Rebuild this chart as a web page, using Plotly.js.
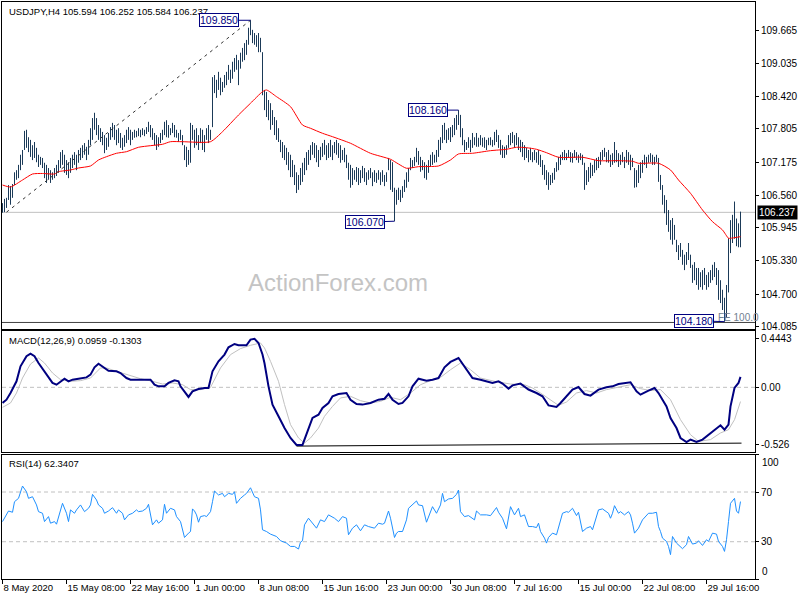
<!DOCTYPE html>
<html><head><meta charset="utf-8">
<script src="https://cdn.plot.ly/plotly-3.0.1.min.js"></script>
<style>html,body{margin:0;padding:0;background:#fff}#chart{width:800px;height:600px}</style>
</head><body><div id="chart"></div>
<script>
// ---- data ----
const symbolTitle = 'USDJPY,H4 105.594 106.252 105.584 106.237';
const macdTitle = 'MACD(12,26,9) 0.0959 -0.1303';
const rsiTitle = 'RSI(14) 62.3407';
const lastClose = 106.237;

const timeTickIdx = [0,32,64,96,128,160,192,224,256,288,320,352];
const timeLabels = ['8 May 2020','15 May 08:00','22 May 16:00','1 Jun 00:00','8 Jun 08:00','15 Jun 16:00','23 Jun 00:00','30 Jun 08:00','7 Jul 16:00','15 Jul 00:00','22 Jul 08:00','29 Jul 16:00'];

const priceTicks = [109.665,109.035,108.420,107.805,107.175,106.560,105.945,105.330,104.700,104.085];
const macdTicks = [0.4443,0,-0.526];
const macdTickText = ['0.4443','0.00','-0.526'];

const barLow = [
106.23,106.24,106.32,106.47,106.38,106.51,106.75,106.85,106.88,107.03,
107.13,107.41,107.45,107.37,107.28,107.22,107.26,107.18,107.09,107.13,
107.07,106.88,106.79,106.85,106.79,106.85,106.88,106.92,106.98,107.07,
107.13,106.98,106.94,106.88,106.98,107.07,107.13,107.03,107.17,107.22,
107.26,107.32,107.22,107.32,107.50,107.60,107.79,107.69,107.60,107.56,
107.50,107.35,107.41,107.47,107.60,107.65,107.60,107.50,107.54,107.45,
107.41,107.47,107.54,107.60,107.50,107.60,107.64,107.65,107.67,107.65,
107.69,107.67,107.71,107.75,107.65,107.60,107.50,107.41,107.47,107.54,
107.60,107.69,107.65,107.64,107.69,107.73,107.65,107.64,107.56,107.60,
107.50,107.22,107.09,107.13,107.17,107.60,107.45,107.50,107.41,107.54,
107.41,107.37,107.60,107.54,107.60,107.84,108.48,108.39,108.54,108.44,
108.50,108.58,108.63,108.73,108.67,108.75,108.88,108.92,108.63,108.94,
109.07,109.10,109.20,109.39,109.57,109.42,109.39,109.35,109.25,109.25,
108.44,108.16,108.03,107.97,107.79,107.88,107.69,107.60,107.56,107.37,
107.26,107.22,107.13,107.03,106.90,106.90,106.75,106.60,106.66,106.75,
106.81,106.94,107.03,107.13,107.22,107.32,107.26,107.18,107.09,107.22,
107.28,107.32,107.22,107.26,107.28,107.22,107.35,107.32,107.26,107.17,
107.22,107.18,107.07,106.85,106.70,106.75,106.85,106.81,106.75,106.79,
106.88,106.81,106.75,106.85,106.88,106.73,106.81,106.79,106.85,106.75,
106.81,106.73,106.81,107.03,106.66,106.62,106.07,106.38,106.47,106.43,
106.51,106.62,106.70,106.81,107.03,107.07,107.11,107.18,107.13,107.00,
107.03,106.88,106.85,106.98,107.09,107.13,107.17,107.18,107.28,107.41,
107.54,107.60,107.54,107.60,107.56,107.65,107.69,107.79,107.88,107.65,
107.50,107.37,107.41,107.45,107.37,107.45,107.50,107.47,107.47,107.50,
107.47,107.45,107.41,107.50,107.50,107.47,107.50,107.56,107.45,107.32,
107.26,107.26,107.32,107.45,107.50,107.54,107.45,107.50,107.41,107.37,
107.28,107.22,107.26,107.18,107.22,107.18,107.22,107.17,107.13,107.09,
106.94,106.85,106.75,106.66,106.75,106.79,106.85,107.00,107.03,107.13,
107.22,107.22,107.22,107.26,107.18,107.17,107.26,107.22,107.17,107.22,
107.13,106.66,106.75,106.81,106.88,106.92,106.98,107.03,107.07,107.13,
107.22,107.28,107.18,107.17,107.09,107.13,107.17,107.18,107.09,107.13,
107.18,107.07,107.17,107.13,107.03,107.09,106.70,106.71,106.79,106.88,
106.98,107.13,107.07,107.17,107.18,107.13,107.13,107.18,106.81,106.66,
106.38,106.22,106.00,105.87,105.72,105.63,105.72,105.49,105.34,105.40,
105.25,105.15,105.25,105.34,105.19,104.91,104.96,104.87,104.78,104.83,
104.78,104.87,104.78,104.83,104.91,104.96,105.02,104.87,104.59,104.53,
104.40,104.18,104.25,104.73,105.47,105.66,105.74,105.60,105.58,105.58
];
const barHigh = [
106.41,106.49,106.51,106.75,106.73,106.77,106.99,107.03,107.13,107.32,
107.41,107.77,107.79,107.65,107.60,107.50,107.56,107.45,107.32,107.28,
107.26,107.17,107.13,107.07,107.03,106.99,107.07,107.13,107.22,107.37,
107.41,107.32,107.22,107.18,107.26,107.32,107.37,107.32,107.41,107.45,
107.50,107.54,107.47,107.60,107.82,108.01,108.11,108.01,107.88,107.82,
107.75,107.69,107.64,107.73,107.84,107.92,107.88,107.79,107.82,107.73,
107.64,107.69,107.79,107.84,107.79,107.75,107.79,107.77,107.82,107.79,
107.82,107.79,107.84,107.94,107.88,107.82,107.73,107.69,107.65,107.73,
107.79,107.94,107.97,107.88,107.82,107.92,107.88,107.79,107.73,107.79,
107.69,107.50,107.47,107.41,107.92,107.88,107.79,107.82,107.69,107.82,
107.79,107.69,107.82,107.88,107.79,108.78,108.82,108.73,108.88,108.77,
108.69,108.82,108.88,109.01,108.92,109.07,109.14,109.20,109.10,109.24,
109.33,109.42,109.48,109.71,109.85,109.67,109.61,109.57,109.61,109.52,
109.25,108.54,108.50,108.35,108.29,108.16,108.03,107.97,107.82,107.60,
107.56,107.50,107.45,107.37,107.32,107.22,107.13,106.99,106.94,107.07,
107.17,107.26,107.37,107.41,107.50,107.56,107.54,107.50,107.41,107.47,
107.54,107.60,107.50,107.54,107.60,107.50,107.56,107.60,107.54,107.50,
107.41,107.45,107.32,107.17,107.13,107.07,107.03,107.09,107.07,107.03,
107.11,107.07,106.99,107.03,107.07,106.99,107.03,106.98,107.03,106.99,
107.03,106.94,106.99,107.26,107.22,107.18,106.70,106.66,106.70,106.66,
106.73,106.85,106.99,107.07,107.26,107.22,107.28,107.45,107.39,107.28,
107.22,107.18,107.13,107.22,107.32,107.37,107.32,107.41,107.60,107.65,
107.88,107.92,107.79,107.82,107.84,107.88,108.01,108.07,108.16,108.07,
107.82,107.60,107.56,107.65,107.60,107.73,107.65,107.73,107.64,107.69,
107.64,107.65,107.60,107.64,107.65,107.60,107.75,107.79,107.69,107.60,
107.50,107.47,107.50,107.69,107.73,107.75,107.69,107.73,107.65,107.60,
107.56,107.50,107.45,107.41,107.45,107.37,107.41,107.37,107.41,107.32,
107.22,107.13,107.03,106.99,106.94,106.98,107.07,107.18,107.28,107.32,
107.37,107.41,107.35,107.41,107.37,107.35,107.41,107.37,107.32,107.35,
107.32,107.17,107.03,107.09,107.17,107.13,107.22,107.26,107.28,107.37,
107.41,107.45,107.37,107.41,107.32,107.35,107.56,107.41,107.35,107.32,
107.37,107.28,107.41,107.37,107.32,107.26,107.07,107.03,107.13,107.18,
107.22,107.32,107.28,107.32,107.35,107.32,107.28,107.32,107.26,106.94,
106.75,106.56,106.47,106.28,106.09,106.13,106.00,105.72,105.62,105.66,
105.53,105.44,105.49,105.66,105.44,105.25,105.30,105.19,105.19,105.11,
105.15,105.19,105.06,105.11,105.15,105.25,105.30,105.19,105.15,104.96,
104.78,104.63,104.87,105.75,106.09,106.19,106.44,106.12,106.03,106.25
];

const maIdx = [0,4,10,15,20,26,28,34,38,44,48,52,57,62,68,74,80,84,90,104,110,118,124,130,132,137,144,150,154,160,165,174,184,194,198,202,208,218,224,228,235,244,252,257,262,267,272,278,290,298,308,315,318,328,334,338,344,350,355,360,363,364,369];
const maVal = [106.751,106.714,106.845,106.958,106.968,106.958,107.002,107.034,107.071,107.109,107.222,107.284,107.348,107.378,107.461,107.491,107.517,107.566,107.566,107.566,107.754,108.068,108.289,108.507,108.539,108.413,108.225,107.880,107.818,107.724,107.660,107.536,107.348,107.235,107.146,107.066,107.096,107.109,107.222,107.335,107.348,107.397,107.423,107.461,107.453,107.423,107.359,107.273,107.273,107.209,107.209,107.197,107.160,107.160,107.034,106.845,106.595,106.281,106.061,105.905,105.749,105.749,105.779];

const macdIdx = [0,2,4,7,9,12,14,16,18,22,25,27,29,31,33,35,38,42,44,46,48,51,53,57,59,62,64,68,72,74,76,78,81,83,86,88,89,91,93,95,98,101,103,105,108,111,113,116,118,122,124,126,128,130,131,133,135,138,141,144,147,150,153,155,158,160,163,165,168,172,174,177,180,184,188,191,193,195,198,200,203,205,208,212,215,218,221,224,228,231,235,239,245,248,250,253,255,259,263,267,270,273,277,279,282,285,288,291,294,298,302,305,308,312,314,317,319,323,326,328,332,334,337,339,342,344,347,350,353,357,359,361,363,364,366,368,369];
const macdVal = [-0.143,-0.113,-0.052,0.055,0.192,0.284,0.308,0.284,0.222,0.116,0.040,0.024,0.055,0.079,0.055,0.070,0.079,0.091,0.116,0.183,0.216,0.177,0.152,0.146,0.131,0.085,0.070,0.070,0.070,0.070,0.024,0.009,0.009,0.040,0.064,0.055,0.009,-0.037,-0.088,-0.037,-0.015,-0.006,-0.006,0.146,0.238,0.299,0.366,0.396,0.384,0.384,0.436,0.444,0.405,0.300,0.220,0.009,-0.158,-0.265,-0.372,-0.463,-0.526,-0.526,-0.372,-0.280,-0.250,-0.189,-0.143,-0.082,-0.061,-0.052,-0.113,-0.152,-0.158,-0.143,-0.113,-0.104,-0.061,-0.113,-0.152,-0.143,-0.082,0.009,0.079,0.061,0.070,0.085,0.183,0.232,0.268,0.192,0.085,0.070,0.040,0.055,0.034,-0.012,0.018,0.034,-0.020,-0.052,-0.082,-0.165,-0.180,-0.143,-0.082,-0.021,0.003,-0.061,-0.076,-0.021,0.000,0.009,0.030,0.040,0.046,-0.037,-0.067,-0.030,-0.006,-0.052,-0.174,-0.280,-0.372,-0.463,-0.500,-0.478,-0.500,-0.478,-0.433,-0.372,-0.347,-0.387,-0.341,-0.174,-0.006,0.040,0.096];

const sigIdx = [0,4,7,10,14,18,21,25,29,34,39,44,49,52,56,62,69,75,80,85,90,94,99,104,109,114,119,124,129,131,134,138,141,144,148,151,154,158,161,165,169,174,179,184,189,194,199,204,209,214,219,224,229,234,239,246,254,261,265,269,274,278,282,287,292,297,302,307,314,319,324,329,334,339,344,348,354,359,363,366,369];
const sigVal = [-0.183,-0.143,-0.052,0.085,0.213,0.268,0.222,0.131,0.070,0.055,0.061,0.085,0.177,0.177,0.152,0.116,0.079,0.055,0.030,0.040,0.024,-0.021,-0.021,0.000,0.177,0.299,0.354,0.384,0.405,0.360,0.238,0.055,-0.158,-0.341,-0.463,-0.509,-0.463,-0.372,-0.265,-0.174,-0.097,-0.082,-0.122,-0.143,-0.128,-0.091,-0.113,-0.052,0.024,0.061,0.091,0.161,0.222,0.161,0.085,0.055,0.030,0.024,-0.006,-0.052,-0.113,-0.165,-0.134,-0.052,-0.030,-0.052,-0.021,0.000,0.024,-0.012,-0.030,-0.021,-0.113,-0.296,-0.433,-0.494,-0.478,-0.417,-0.387,-0.296,-0.130];

const macdTrendIdx = [147,369.5];
const macdTrendVal = [-0.537,-0.510];

const rsiIdx = [0,1,3,5,6,8,10,12,13,15,17,18,20,21,23,24,26,27,29,30,32,33,34,36,37,39,41,43,44,45,47,48,50,51,53,55,57,58,60,61,63,65,67,68,70,72,73,74,75,77,78,80,81,82,84,86,87,89,90,91,93,94,95,96,97,98,99,101,102,104,105,106,108,110,111,113,115,116,117,119,121,122,124,126,128,129,130,132,134,137,139,142,144,146,148,149,150,151,153,155,157,159,161,163,166,168,170,172,173,175,177,179,181,183,186,188,190,191,193,194,196,197,198,200,202,203,205,207,208,210,212,214,215,217,219,220,221,223,225,227,228,229,231,233,236,237,239,242,244,247,248,250,252,254,256,258,259,261,263,265,267,268,269,271,272,273,275,277,278,280,282,283,285,287,288,290,292,294,295,297,298,300,303,304,305,306,308,309,311,313,314,315,316,318,320,323,325,327,328,329,330,332,333,334,335,337,338,340,342,343,345,347,348,350,352,353,355,357,358,360,361,362,363,364,366,367,368,369];
const rsiVal = [46.2,48.9,54.7,53.7,62.2,64.9,74.8,70.2,64.9,66.2,59.6,54.2,52.9,46.2,50.2,44.9,46.2,44.1,56.9,60.9,52.9,46.2,55.6,52.9,55.6,59.6,54.2,56.9,59.6,68.1,63.6,59.6,56.9,52.9,54.7,57.4,52.9,55.6,52.9,47.6,51.6,52.9,55.6,54.2,54.7,56.9,60.1,50.2,43.6,47.6,44.9,47.6,60.1,52.9,56.9,55.6,50.2,46.2,39.6,33.4,36.9,38.2,56.4,54.7,51.6,45.7,50.2,51.0,50.2,54.2,62.2,70.8,67.6,68.9,66.2,68.9,68.1,70.2,60.9,64.9,67.6,68.9,73.4,66.2,64.9,55.6,39.6,38.2,36.1,34.2,30.8,28.9,26.2,26.2,24.1,29.7,30.8,43.6,48.9,44.9,40.9,47.6,46.2,51.6,48.9,46.2,50.2,48.9,35.6,40.9,43.6,38.8,43.6,42.2,40.9,44.9,44.1,44.9,54.7,48.9,33.4,36.9,38.2,38.2,47.6,56.9,59.6,62.8,59.6,59.0,45.7,54.2,58.2,52.9,59.6,68.9,62.2,64.4,64.9,68.1,71.6,54.2,50.2,51.0,47.6,54.7,51.6,51.6,51.0,57.5,53.7,48.9,40.4,58.2,51.6,56.9,50.2,51.6,42.2,42.2,41.4,44.9,38.2,32.9,28.9,33.4,36.9,35.6,42.2,52.9,54.2,53.7,56.9,51.0,53.7,38.2,40.9,42.2,39.6,51.6,55.6,56.4,52.9,48.9,52.9,59.0,52.9,54.2,51.6,54.2,51.6,44.9,36.9,40.9,47.6,52.9,52.9,53.7,42.2,38.2,32.9,30.2,26.2,19.6,34.2,28.9,27.6,24.4,27.6,34.2,28.1,28.9,30.8,27.0,31.6,30.2,36.9,36.1,30.2,26.2,22.2,31.6,46.2,60.9,64.9,54.7,52.9,62.3];
const rsiLevels = [70,30];

const trendFrom = {idx:2, price:106.24};
const trendTo = {idx:124, price:109.85};
const feLevel = 104.165;

const marks = [
  {idx:124, price:109.850, text:'109.850', ax:-32, ay:0},
  {idx:228, price:108.160, text:'108.160', ax:-30.5, ay:0},
  {idx:196, price:106.070, text:'106.070', ax:-30, ay:1},
  {idx:361, price:104.180, text:'104.180', ax:-30.5, ay:-1}
];

// ---- build ----
const FONT = 'Liberation Sans, Arial, sans-serif';
const segX = [], segY = [];
barLow.forEach((l, i) => { segX.push(i, i, null); segY.push(l, barHigh[i], null); });

const traces = [
  {type:'scatter', mode:'lines', x:segX, y:segY, xaxis:'x', yaxis:'y', line:{color:'#1b3a58', width:1}, hoverinfo:'skip', showlegend:false},
  {type:'scatter', mode:'lines', x:maIdx, y:maVal, xaxis:'x', yaxis:'y', line:{color:'#ff0000', width:1, shape:'spline', smoothing:0.6}, hoverinfo:'skip', showlegend:false},
  {type:'scatter', mode:'lines', x:macdTrendIdx, y:macdTrendVal, xaxis:'x2', yaxis:'y2', line:{color:'#000000', width:1}, hoverinfo:'skip', showlegend:false},
  {type:'scatter', mode:'lines', x:sigIdx, y:sigVal, xaxis:'x2', yaxis:'y2', line:{color:'#c0c0c0', width:1}, hoverinfo:'skip', showlegend:false},
  {type:'scatter', mode:'lines', x:macdIdx, y:macdVal, xaxis:'x2', yaxis:'y2', line:{color:'#000080', width:2}, hoverinfo:'skip', showlegend:false},
  {type:'scatter', mode:'lines', x:rsiIdx, y:rsiVal, xaxis:'x3', yaxis:'y3', line:{color:'#1e90ff', width:1}, hoverinfo:'skip', showlegend:false}
];

const axBase = {showline:true, mirror:true, linecolor:'#000', linewidth:1, showgrid:false, zeroline:false, fixedrange:true};
const xr = [-0.25, 376.25];

const shapes = [
  {type:'line', xref:'paper', yref:'y', x0:0, x1:1, y0:lastClose, y1:lastClose, line:{color:'#c0c0c0', width:1}, layer:'below'},
  {type:'line', xref:'paper', yref:'y', x0:0, x1:1, y0:feLevel, y1:feLevel, line:{color:'#404040', width:1}, layer:'below'},
  {type:'line', xref:'x', yref:'y', x0:trendFrom.idx, y0:trendFrom.price, x1:trendTo.idx, y1:trendTo.price, line:{color:'#333', width:1, dash:'3px,4px'}},
  {type:'line', xref:'paper', yref:'y2', x0:0, x1:1, y0:0, y1:0, line:{color:'#c0c0c0', width:1, dash:'4px,3px'}, layer:'below'}
];
rsiLevels.forEach(v => shapes.push({type:'line', xref:'paper', yref:'y3', x0:0, x1:1, y0:v, y1:v, line:{color:'#c0c0c0', width:1, dash:'4px,3px'}, layer:'below'}));

const annotations = [
  {xref:'paper', yref:'paper', x:0.0066, y:0.9844, xanchor:'left', yanchor:'middle', text:symbolTitle, showarrow:false, font:{family:FONT, size:9.5, color:'#000'}},
  {xref:'paper', yref:'paper', x:0.0066, y:0.4125, xanchor:'left', yanchor:'middle', text:macdTitle, showarrow:false, font:{family:FONT, size:9.5, color:'#000'}},
  {xref:'paper', yref:'paper', x:0.0066, y:0.2010, xanchor:'left', yanchor:'middle', text:rsiTitle, showarrow:false, font:{family:FONT, size:9.5, color:'#000'}},
  {xref:'paper', yref:'paper', x:0.4462, y:0.513, xanchor:'center', yanchor:'middle', text:'ActionForex.com', showarrow:false, font:{family:FONT, size:24, color:'#c4c4c4'}},
  {xref:'paper', yref:'y', x:0.9482, y:104.255, xanchor:'left', yanchor:'middle', text:'FE 100.0', showarrow:false, font:{family:FONT, size:10, color:'#708090'}},
  {xref:'paper', yref:'y', x:1.0027, y:lastClose, xanchor:'left', yanchor:'middle', text:lastClose.toFixed(3), showarrow:false, bgcolor:'#000', borderpad:1, font:{family:FONT, size:10, color:'#fff'}},
  {xref:'paper', yref:'y3', x:1.0066, y:100, xanchor:'left', yanchor:'top', text:'100', showarrow:false, font:{family:FONT, size:10, color:'#000'}},
  {xref:'paper', yref:'y3', x:1.0066, y:0, xanchor:'left', yanchor:'bottom', text:'0', showarrow:false, font:{family:FONT, size:10, color:'#000'}}
];
marks.forEach(m => annotations.push({
  xref:'x', yref:'y', x:m.idx, y:m.price, text:m.text, showarrow:true, arrowhead:0, arrowwidth:1, arrowcolor:'#000080',
  ax:m.ax, ay:m.ay, standoff:0, bordercolor:'#000080', borderwidth:1, borderpad:0, bgcolor:'#ffffff',
  font:{family:FONT, size:10.5, color:'#000080'}
}));

const layout = {
  width:800, height:600,
  margin:{l:2, r:45, t:2, b:21, pad:0},
  paper_bgcolor:'#fff', plot_bgcolor:'#fff',
  showlegend:false,
  font:{family:FONT, size:10, color:'#000'},
  xaxis: Object.assign({}, axBase, {domain:[0,1], anchor:'y', range:xr, showticklabels:false, ticks:''}),
  xaxis2: Object.assign({}, axBase, {domain:[0,1], anchor:'y2', matches:'x', range:xr, showticklabels:false, ticks:''}),
  xaxis3: Object.assign({}, axBase, {domain:[0,1], anchor:'y3', matches:'x', range:xr, tickmode:'array', tickvals:timeTickIdx, ticktext:timeLabels,
    tickangle:0, ticks:'outside', ticklen:4, tickcolor:'#000', ticklabelposition:'outside right', ticklabelstandoff:0, tickfont:{family:FONT, size:9.5, color:'#000'}}),
  yaxis: Object.assign({}, axBase, {domain:[0.4341,1], anchor:'x', side:'right', range:[104.051,110.194], tickmode:'array',
    tickvals:priceTicks, ticktext:priceTicks.map(v=>v.toFixed(3)), ticks:'outside', ticklen:3, tickcolor:'#000', tickfont:{family:FONT, size:10, color:'#000'}}),
  yaxis2: Object.assign({}, axBase, {domain:[0.2201,0.4293], anchor:'x2', side:'right', range:[-0.591,0.512], tickmode:'array',
    tickvals:macdTicks, ticktext:macdTickText, ticks:'outside', ticklen:3, tickcolor:'#000', tickfont:{family:FONT, size:10, color:'#000'}}),
  yaxis3: Object.assign({}, axBase, {domain:[0,0.2154], anchor:'x3', side:'right', range:[0,100], tickmode:'array',
    tickvals:[100,70,30,0], ticktext:['','70','30',''], ticks:'outside', ticklen:3, tickcolor:'#000', tickfont:{family:FONT, size:10, color:'#000'}}),
  shapes: shapes,
  annotations: annotations
};

Plotly.newPlot('chart', traces, layout, {displayModeBar:false, staticPlot:true});
</script>
</body></html>
